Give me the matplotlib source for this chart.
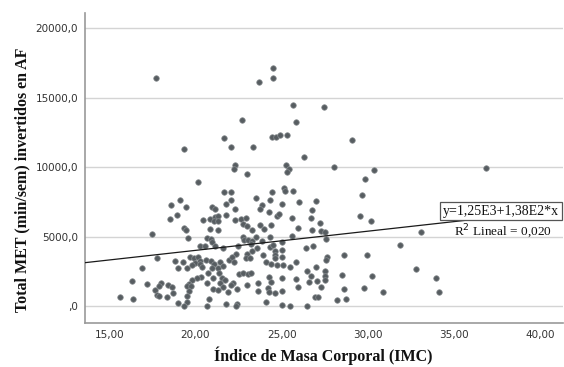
import matplotlib
matplotlib.use("Agg")
import matplotlib.pyplot as plt

# Índice de Masa Corporal (IMC) values
imc = [17.70, 19.34, 21.65, 20.18, 24.48, 24.50, 23.71, 25.65, 27.43, 22.71, 25.85,
       24.46, 24.65, 24.90, 25.29, 22.09, 23.32, 29.10, 26.31, 22.32, 22.24, 23.0,
       25.27, 25.44, 25.31, 28.06,
       21.65, 19.09, 18.58, 19.45, 18.95, 18.53, 20.94, 21.13, 21.76, 20.43, 20.84,
       21.13, 21.34, 21.09, 21.34, 21.76, 19.32, 19.45, 20.84, 21.32, 19.58, 17.47,
       20.68, 20.90, 20.95, 21.13, 20.24, 20.57, 21.59, 17.76, 16.93,
       18.83, 19.28, 19.68, 19.90, 20.13, 20.28, 20.61, 19.99, 20.26, 20.38, 19.53,
       19.78, 18.97, 20.90, 21.07, 21.43, 21.34, 20.95, 21.63, 21.94,
       20.30, 20.07, 19.83, 19.64, 19.53, 19.75, 19.61, 19.53, 18.99, 19.49, 19.34,
       20.72, 21.03, 20.68, 21.36, 21.53, 21.72, 21.43, 21.03, 21.32, 21.61, 21.90,
       20.80, 20.65, 21.80,
       16.31, 17.18, 15.64, 16.37, 17.64, 18.0, 17.91, 17.79, 17.91, 18.43, 18.66,
       18.68, 18.37,
       25.12, 25.22, 25.64, 24.42, 22.09, 22.09, 23.54, 24.31, 25.02, 26.0, 26.97,
       23.86, 23.77, 22.28, 24.26, 24.75, 24.84, 25.58, 26.77, 26.68,
       22.32, 22.63, 22.95, 22.76, 23.02, 23.73, 23.98, 24.36, 23.31, 23.50, 23.84,
       24.31, 25.96, 27.25, 26.77, 27.27, 27.49, 27.58, 25.61,
       22.76, 22.82, 23.05, 23.31, 23.21, 22.47,
       24.31, 24.50, 25.02, 25.02, 25.04, 24.60, 24.64, 24.62, 24.12, 24.40, 23.92,
       23.60, 23.31, 23.0, 22.96, 23.19, 22.38, 22.15, 22.23, 26.39, 26.81, 27.62,
       27.56, 28.64, 25.85, 25.46, 25.08, 24.71, 26.97,
       22.51, 22.76, 23.05, 23.23, 22.19, 22.05, 22.42, 23.02, 23.65, 24.26, 24.36,
       24.23, 23.65, 24.25, 24.62, 25.04, 25.04, 25.85, 25.94, 26.50, 26.69, 26.56,
       27.08, 27.49, 27.51, 27.53, 27.31, 26.93, 27.12, 28.50, 28.60, 28.20, 28.72,
       22.42, 22.34, 24.12, 25.02, 25.46, 26.50,
       30.38, 29.86, 29.66, 36.88, 29.57, 30.16, 33.11, 31.88, 29.93, 32.80, 30.24,
       33.96, 29.76, 30.90, 34.11]

# Total MET (min/sem) invertidos en AF
met = [16424, 11316, 12064, 8920, 17100, 16400, 16110, 14460, 14340, 13360, 13260,
       12180, 12160, 12300, 12300, 11460, 11460, 11940, 10700, 10170, 9880, 9500,
       10120, 9855, 9620, 10000,
       8180, 7650, 7240, 7100, 6570, 6280, 7100, 6980, 7320, 6210, 6260,
       6380, 6470, 6110, 6110, 6520, 5590, 5490, 5560, 5450, 4910, 5180,
       4910, 4820, 4630, 4320, 4340, 4340, 4200, 3430, 2710,
       3240, 3140, 3500, 3430, 3500, 3240, 3330, 3070, 3040, 2810, 2760,
       2950, 2710, 3240, 3040, 3190, 2710, 2760, 2880, 3290,
       2110, 2060, 1870, 1600, 1420, 1420, 1080, 720, 240, 310, 0,
       2400, 2040, 1700, 2350, 1990, 1870, 1650, 1200, 1130, 1350, 1030,
       500, 0, 120,
       1800, 1600, 630, 530, 1150, 1700, 1460, 770, 700, 1510, 1390,
       910, 630,
       8470, 8270, 8270, 8200, 8180, 7630, 7770, 7600, 7360, 7500, 7530,
       7270, 7000, 6980, 6740, 6470, 6600, 6350, 6900, 6330,
       6190, 6240, 6350, 5880, 5730, 5800, 5540, 5850, 5470, 4940, 4700,
       4940, 5610, 5950, 5450, 5400, 5320, 4820, 5010,
       4940, 4730, 4750, 4680, 4440, 4340,
       4270, 4390, 4580, 4030, 3550, 4000, 3690, 3430, 3190, 3000, 3670,
       4200, 3980, 3740, 3430, 3430, 3720, 3500, 3140, 4170, 4290, 3500,
       3290, 3670, 3140, 2830, 2950, 2950, 2830,
       2300, 2400, 2300, 2400, 1680, 1510, 1250, 1510, 1680, 2110, 1750,
       1320, 1080, 1030, 910, 2060, 1100, 1940, 1390, 2520, 2140, 1730,
       1820, 2520, 2180, 1890, 1350, 670, 670, 2210, 1220, 430, 480,
       170, 20, 270, 70, 0, 0,
       9780, 9140, 7960, 9930, 6500, 6120, 5350, 4370, 3650, 2690, 2140,
       2060, 1290, 1010, 1010]

fit_intercept = 1250.0
fit_slope = 138.0
fit_text = "y=1,25E3+1,38E2*x"
r2_text = "R$^2$ Lineal = 0,020"

x_ticks = [15, 20, 25, 30, 35, 40]
x_ticklabels = ["15,00", "20,00", "25,00", "30,00", "35,00", "40,00"]
y_ticks = [0, 5000, 10000, 15000, 20000]
y_ticklabels = [",0", "5000,0", "10000,0", "15000,0", "20000,0"]

fig = plt.figure(figsize=(5.64, 3.67), dpi=100)
ax = fig.add_axes([0.1507, 0.1207, 0.847, 0.8439])
xmin, xmax = 13.6, 41.3
ax.set_xlim(xmin, xmax)
ax.set_ylim(-1190, 21080)

for v in y_ticks:
    ax.axhline(v, color="#d4d4d4", lw=1.0, zorder=1)

ax.scatter(imc, met, s=16, color="#575d61", edgecolors="#8a8f92", linewidths=0.5, zorder=3)

xe = max(imc)
ax.plot([xmin, xe], [fit_intercept + fit_slope * xmin, fit_intercept + fit_slope * xe],
        color="#1a1a1a", lw=0.9, zorder=4)

ax.text(0.992, 0.36, fit_text, transform=ax.transAxes, ha="right", va="center",
        family="Liberation Serif", fontsize=10, color="#111111", zorder=6,
        bbox=dict(boxstyle="square,pad=0.2", fc="white", ec="#555555", lw=0.9))
ax.text(0.977, 0.293, r2_text, transform=ax.transAxes, ha="right", va="center",
        family="Liberation Serif", fontsize=9.5, color="#111111", zorder=6)

ax.set_xticks(x_ticks)
ax.set_xticklabels(x_ticklabels)
ax.set_yticks(y_ticks)
ax.set_yticklabels(y_ticklabels)
ax.tick_params(length=0, labelsize=7.5, colors="#333333", pad=5)
for lab in ax.get_xticklabels() + ax.get_yticklabels():
    lab.set_color("#333333")

for s in ["top", "right"]:
    ax.spines[s].set_visible(False)
for s in ["left", "bottom"]:
    ax.spines[s].set_color("#999999")
    ax.spines[s].set_linewidth(1.2)

fig.text(0.574, 0.032, "Índice de Masa Corporal (IMC)", ha="center", va="center",
         family="Liberation Serif", fontweight="bold", fontsize=11.5, color="#111111")
fig.text(0.04, 0.51, "Total MET (min/sem) invertidos en AF", ha="center", va="center",
         rotation=90, family="Liberation Serif", fontweight="bold", fontsize=11.5,
         color="#111111")

fig.savefig("out.png", dpi=100)
